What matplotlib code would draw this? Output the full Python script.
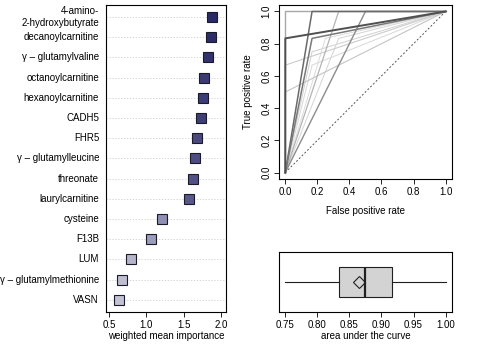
import numpy as np
import matplotlib.pyplot as plt
from matplotlib.colors import LinearSegmentedColormap

plt.rcParams['font.family'] = ['Liberation Sans', 'DejaVu Sans']
plt.rcParams['font.size'] = 7.0

# variable importance
features = ["4-amino-\n2-hydroxybutyrate", "decanoylcarnitine", "\u03b3 \u2013 glutamylvaline",
            "octanoylcarnitine", "hexanoylcarnitine", "CADH5", "FHR5",
            "\u03b3 \u2013 glutamylleucine", "threonate", "laurylcarnitine", "cysteine",
            "F13B", "LUM", "\u03b3 \u2013 glutamylmethionine", "VASN"]
importance = [1.88, 1.87, 1.83, 1.77, 1.76, 1.74, 1.68, 1.65, 1.63, 1.58,
              1.21, 1.06, 0.79, 0.68, 0.64]

# ROC curves: single operating point per model
roc_fpr = [0.0, 0.0, 0.167, 0.167, 0.333, 0.5, 0.0, 0.0, 0.167, 0.333, 0.25, 0.167]
roc_tpr = [1.0, 0.833, 1.0, 0.833, 1.0, 1.0, 0.667, 0.5, 0.667, 0.833, 0.833, 0.75]
roc_grey = ['#a8a8a8', '#505050', '#6a6a6a', '#787878', '#b4b4b4', '#8c8c8c',
            '#cccccc', '#c4c4c4', '#d8d8d8', '#d4d4d4', '#dcdcdc', '#d0d0d0']
roc_lw = [1.0, 1.4, 1.1, 1.1, 0.9, 1.0, 0.8, 0.8, 0.7, 0.7, 0.7, 0.7]

# AUC summary
auc_min, auc_q1, auc_med, auc_q3, auc_max = 0.75, 0.834, 0.875, 0.917, 1.00
auc_mean = 0.865

fig = plt.figure(figsize=(4.85, 3.49), dpi=100)

def r_style(ax):
    for s in ax.spines.values():
        s.set_linewidth(0.8)
    ax.tick_params(direction='out', length=3.5, width=0.6, pad=2)

# left panel
ax1 = fig.add_axes([0.2186, 0.106, 0.2474, 0.880])
y = np.arange(len(features))[::-1]
cmap = LinearSegmentedColormap.from_list('imp', ['#c2c2d2', '#8a8ab0', '#2a2a68'])
norm = plt.Normalize(min(importance), max(importance))
for yi, v in zip(y, importance):
    ax1.axhline(yi, color='#cccccc', lw=0.6, ls=(0, (1.5, 2)), zorder=0)
    ax1.plot(v, yi, 's', ms=7.3, mfc=cmap(norm(v)), mec='#1a1a2a', mew=0.8)
ax1.set_yticks(y)
ax1.set_yticklabels(features, ha='right', multialignment='right')
ax1.set_ylim(-0.6, len(features) - 0.4)
ax1.set_xlim(0.46, 2.07)
ax1.set_xticks([0.5, 1.0, 1.5, 2.0])
ax1.set_xticklabels(['0.5', '1.0', '1.5', '2.0'])
r_style(ax1)
ax1.tick_params(axis='y', length=0, pad=5)
ax1.set_xlabel('weighted mean importance', labelpad=1)
fig.canvas.draw()
for lab in ax1.get_yticklabels():
    lab.set_linespacing(1.3)
    lab.set_verticalalignment('center')

# ROC panel
ax2 = fig.add_axes([0.575, 0.487, 0.357, 0.4986])
ax2.plot([0, 1], [0, 1], color='#555555', lw=0.7, ls=(0, (2, 2)))
order = np.argsort(roc_lw)
for i in order:
    ax2.plot([0, roc_fpr[i], 1], [0, roc_tpr[i], 1], color=roc_grey[i], lw=roc_lw[i])
ax2.set_xlim(-0.04, 1.04)
ax2.set_ylim(-0.04, 1.04)
ticks = [0.0, 0.2, 0.4, 0.6, 0.8, 1.0]
ax2.set_xticks(ticks)
ax2.set_yticks(ticks)
ax2.set_xticklabels(['%.1f' % t for t in ticks])
ax2.set_yticklabels(['%.1f' % t for t in ticks], rotation=90, va='center')
r_style(ax2)
ax2.set_xlabel('False positive rate', labelpad=7)
ax2.set_ylabel('True positive rate', labelpad=6)

# AUC boxplot
ax3 = fig.add_axes([0.575, 0.106, 0.357, 0.172])
stats = [dict(whislo=auc_min, q1=auc_q1, med=auc_med, q3=auc_q3, whishi=auc_max,
              mean=auc_mean, fliers=[])]
ax3.bxp(stats, vert=False, widths=0.55, showmeans=True, showcaps=False, patch_artist=True,
        boxprops=dict(facecolor='#d3d3d3', edgecolor='#202020', lw=0.8),
        medianprops=dict(color='#202020', lw=1.6),
        whiskerprops=dict(color='#202020', lw=0.8),
        meanprops=dict(marker='D', mfc='none', mec='#202020', ms=6, mew=0.8))
ax3.set_ylim(0.45, 1.55)
ax3.set_yticks([])
ax3.set_xlim(0.74, 1.01)
aticks = [0.75, 0.80, 0.85, 0.90, 0.95, 1.00]
ax3.set_xticks(aticks)
ax3.set_xticklabels(['%.2f' % t for t in aticks])
r_style(ax3)
ax3.set_xlabel('area under the curve', labelpad=1)

plt.savefig('out.png', dpi=100)
